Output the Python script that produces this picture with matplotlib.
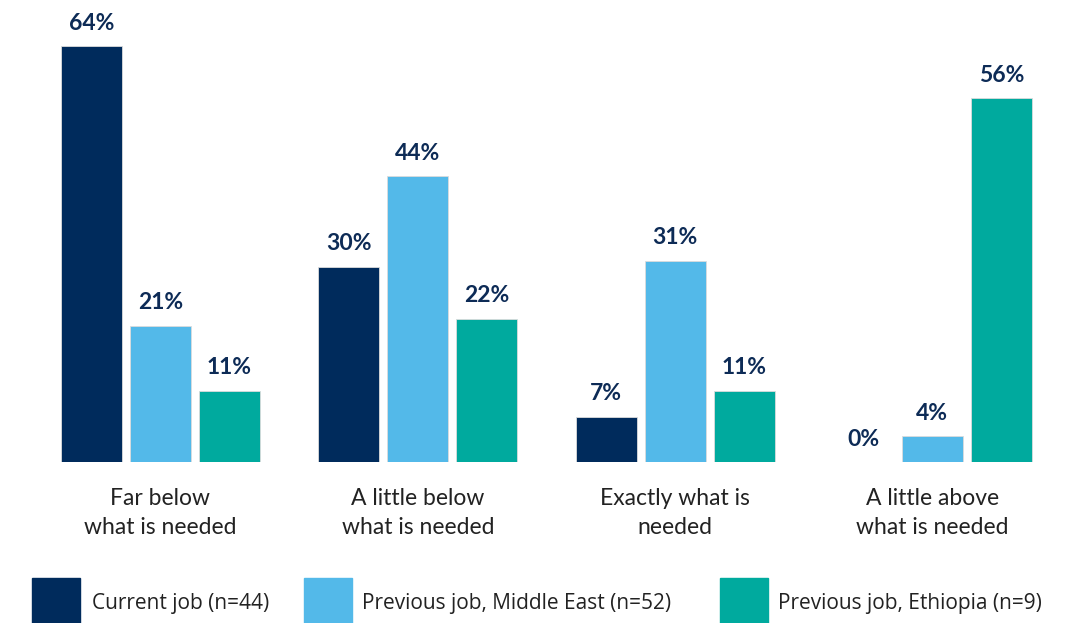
import matplotlib
matplotlib.use("Agg")
import matplotlib.pyplot as plt
import matplotlib.patches as mp
import numpy as np

categories = ["Far below\nwhat is needed", "A little below\nwhat is needed",
              "Exactly what is\nneeded", "A little above\nwhat is needed"]
series_names = ["Current job (n=44)", "Previous job, Middle East (n=52)",
                "Previous job, Ethiopia (n=9)"]
current_job = [64, 30, 7, 0]
prev_middle_east = [21, 44, 31, 4]
prev_ethiopia = [11, 22, 11, 56]

colours = ["#002B5C", "#53B9E9", "#00AA9E"]
label_colour = "#0D2B56"
text_colour = "#222222"

W, H = 1080, 623
fig = plt.figure(figsize=(W / 100, H / 100), dpi=100)

# axes spans the full width; baseline sits 161 px above the bottom edge
base_px = 161
ax = fig.add_axes([0, base_px / H, 1, (H - base_px) / H])
group_step = 257.3
first_centre = 160.5
ax.set_xlim(-first_centre / group_step, (W - first_centre) / group_step)
px_per_pct = 6.5
ax.set_ylim(0, (H - base_px) / px_per_pct)
ax.axis("off")

x = np.arange(len(categories))
bar_w = 61 / group_step
step = 69 / group_step
all_series = [current_job, prev_middle_east, prev_ethiopia]
for i, vals in enumerate(all_series):
    xs = x + (i - 1) * step
    ax.bar(xs, vals, width=bar_w, color=colours[i],
           edgecolor="#dcdcdc", linewidth=0.6)
    for xi, v in zip(xs, vals):
        ax.annotate(f"{v}%", (xi, v), xytext=(0, 9), textcoords="offset points",
                    ha="center", va="bottom", fontsize=16.5, fontweight="bold",
                    color=label_colour, family="Lato")

for xi, cat in zip(x, categories):
    ax.annotate(cat, (xi, 0), xytext=(0, -19), textcoords="offset points",
                ha="center", va="top", fontsize=16.5, color=text_colour,
                family="Lato", linespacing=1.42)

# legend drawn by hand along the bottom edge
legend_items = [(32, 92), (304, 362), (720, 778)]
for (px, tx), name, col in zip(legend_items, series_names, colours):
    fig.patches.append(mp.Rectangle((px / W, 0), 48 / W, 45 / H,
                                    transform=fig.transFigure, color=col))
    fig.text(tx / W, 19 / H, name, ha="left", va="center", fontsize=15,
             color=text_colour, family="Open Sans")

fig.savefig("out.png", dpi=100)
